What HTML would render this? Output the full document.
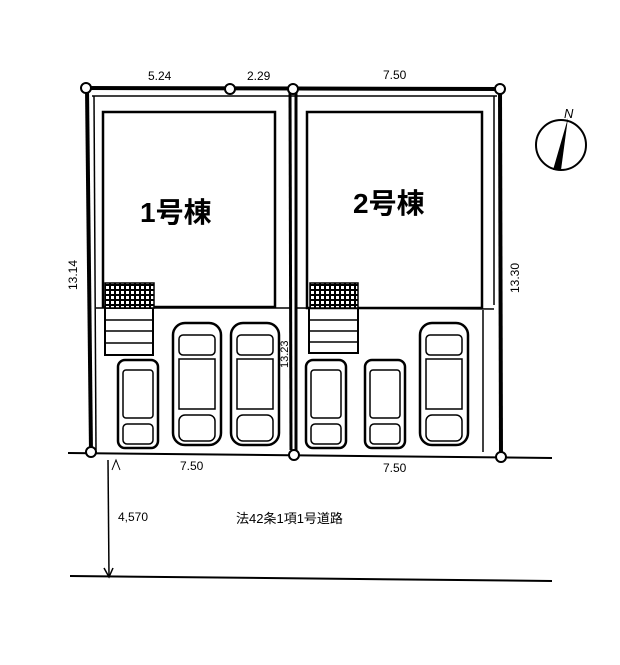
<!DOCTYPE html><html><head><meta charset="utf-8"><style>body{margin:0;background:#fff}svg{display:block}text{font-family:"Liberation Sans","Noto Sans CJK JP",sans-serif;fill:#000}</style></head><body>
<svg width="620" height="665" viewBox="0 0 620 665">
<defs>
<pattern id="g" width="5" height="5" patternUnits="userSpaceOnUse"><rect width="5" height="5" fill="#000"/><rect x="1" y="1" width="3" height="3" fill="#fff"/></pattern>
<g id="car" fill="none" stroke="#000" stroke-width="2.5">
<rect x="0" y="0" width="40" height="88" rx="7"/>
<rect x="5" y="10" width="30" height="48" rx="3" stroke-width="1.5"/>
<rect x="5" y="64" width="30" height="20" rx="4" stroke-width="1.5"/>
</g>
<g id="bcar" fill="none" stroke="#000" stroke-width="2.5">
<rect x="0" y="0" width="48" height="122" rx="12"/>
<rect x="6" y="12" width="36" height="20" rx="4" stroke-width="1.5"/>
<rect x="6" y="36" width="36" height="50" stroke-width="1.5"/>
<rect x="6" y="92" width="36" height="26" rx="6" stroke-width="1.5"/>
</g>
</defs>
<g stroke="#000" fill="none">
<!-- top boundary -->
<line x1="86" y1="88" x2="500" y2="89" stroke-width="4"/>
<line x1="92" y1="96" x2="497" y2="96" stroke-width="1.5"/>
<!-- left -->
<line x1="87" y1="88" x2="91" y2="452" stroke-width="4"/>
<line x1="94" y1="96" x2="96" y2="450" stroke-width="1.5"/>
<!-- divider -->
<line x1="290" y1="90" x2="291" y2="450" stroke-width="3"/>
<line x1="296" y1="90" x2="296" y2="455" stroke-width="3"/>
<!-- right -->
<line x1="500" y1="89" x2="501" y2="457" stroke-width="4"/>
<line x1="494" y1="96" x2="494" y2="305" stroke-width="1.5"/>
<line x1="483" y1="310" x2="483" y2="452" stroke-width="1.5"/>
<!-- road lines -->
<line x1="68" y1="453" x2="552" y2="458" stroke-width="2"/>
<line x1="70" y1="576" x2="552" y2="581" stroke-width="2"/>
<line x1="108" y1="460" x2="109" y2="576" stroke-width="1.5"/>
<!-- buildings -->
<rect x="103" y="112" width="172" height="195" stroke-width="2.5"/>
<rect x="307" y="112" width="175" height="196" stroke-width="2.5"/>
<line x1="96" y1="308" x2="290" y2="308" stroke-width="1.5"/>
<line x1="296" y1="308" x2="494" y2="309" stroke-width="1.5"/>
<!-- stairs -->
<rect x="105" y="308" width="48" height="47" stroke-width="2"/>
<line x1="105" y1="320" x2="153" y2="320" stroke-width="1.5"/><line x1="105" y1="331" x2="153" y2="331" stroke-width="1.5"/><line x1="105" y1="343" x2="153" y2="343" stroke-width="1.5"/>
<rect x="309" y="308" width="49" height="45" stroke-width="2"/>
<line x1="309" y1="320" x2="358" y2="320" stroke-width="1.5"/><line x1="309" y1="331" x2="358" y2="331" stroke-width="1.5"/><line x1="309" y1="342" x2="358" y2="342" stroke-width="1.5"/>
</g>
<rect x="105" y="283" width="49" height="25" fill="url(#g)" stroke="#000" stroke-width="1.5"/>
<rect x="310" y="283" width="48" height="25" fill="url(#g)" stroke="#000" stroke-width="1.5"/>
<use href="#car" x="118" y="360"/>
<use href="#bcar" x="173" y="323"/>
<use href="#bcar" x="231" y="323"/>
<use href="#car" x="306" y="360"/>
<use href="#car" x="365" y="360"/>
<use href="#bcar" x="420" y="323"/>
<!-- corners -->
<g fill="#fff" stroke="#000" stroke-width="2">
<circle cx="86" cy="88" r="5"/><circle cx="230" cy="89" r="5"/><circle cx="293" cy="89" r="5"/><circle cx="500" cy="89" r="5"/>
<circle cx="91" cy="452" r="5"/><circle cx="294" cy="455" r="5"/><circle cx="501" cy="457" r="5"/>
</g>
<!-- arrow -->
<path d="M104 568 L109 577 L113 568" fill="none" stroke="#000" stroke-width="1.5"/>
<path d="M112 470 L116 460 L120 470" fill="none" stroke="#000" stroke-width="1"/>
<!-- compass -->
<circle cx="561" cy="145" r="25" fill="none" stroke="#000" stroke-width="2"/>
<path d="M568 118 L553 170 L561 170 Z" fill="#000"/>
<text x="564" y="118" font-size="13" font-style="italic">N</text>
<!-- labels -->
<g font-size="12">
<text x="148" y="80">5.24</text><text x="247" y="80">2.29</text><text x="383" y="79">7.50</text>
<text x="180" y="470">7.50</text><text x="383" y="472">7.50</text>
<text x="118" y="521">4,570</text>
<text x="236" y="523" font-size="13">法42条1項1号道路</text>
<text transform="translate(77,290) rotate(-90)">13.14</text>
<text transform="translate(519,293) rotate(-90)">13.30</text>
<text transform="translate(288,368) rotate(-90)" font-size="11">13.23</text>
</g>
<text x="140" y="222" font-size="28" font-weight="bold">1号棟</text>
<text x="353" y="213" font-size="28" font-weight="bold">2号棟</text>
</svg></body></html>
